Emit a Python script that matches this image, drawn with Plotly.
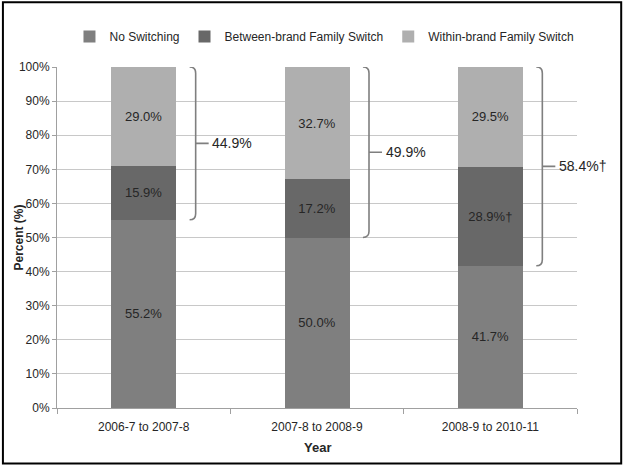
import plotly.graph_objects as go

categories = ["2006-7 to 2007-8", "2007-8 to 2008-9", "2008-9 to 2010-11"]
no_switch = [55.2, 50.0, 41.7]
between = [15.9, 17.2, 28.9]
within = [29.0, 32.7, 29.5]
between_labels = ["15.9%", "17.2%", "28.9%\u2020"]
switch_totals = ["44.9%", "49.9%", "58.4%\u2020"]
y_ticks = [0, 10, 20, 30, 40, 50, 60, 70, 80, 90, 100]

FONT = "Liberation Sans"
xs = list(range(len(categories)))
W = 0.375

fig = go.Figure()
fig.add_bar(x=xs, y=no_switch, name="No Switching", marker_color="#7f7f7f", width=W,
            text=[f"{v:.1f}%" for v in no_switch], textposition="inside", insidetextanchor="middle")
fig.add_bar(x=xs, y=between, name="Between-brand Family Switch", marker_color="#686868", width=W,
            text=between_labels, textposition="inside", insidetextanchor="middle")
fig.add_bar(x=xs, y=within, name="Within-brand Family Switch", marker_color="#afafaf", width=W,
            text=[f"{v:.1f}%" for v in within], textposition="inside", insidetextanchor="middle")
fig.update_traces(textfont=dict(family=FONT, size=13, color="#262626"), textangle=0,
                  marker_line_width=0)

shapes = []
annotations = []
for i, (ns, lab) in enumerate(zip(no_switch, switch_totals)):
    x0 = i + 0.30
    h = 0.035
    r = 1.8
    top = 100.0
    bot = ns
    mid = (top + bot) / 2
    m = 0.075
    path = (f"M {x0-h},{top} Q {x0},{top} {x0},{top-r} L {x0},{bot+r} Q {x0},{bot} {x0-h},{bot} "
            f"M {x0},{mid} L {x0+m},{mid}")
    shapes.append(dict(type="path", path=path, xref="x", yref="y",
                       line=dict(color="#7f7f7f", width=1.6)))
    annotations.append(dict(x=x0 + m + 0.01, y=mid, xref="x", yref="y", text=lab,
                            showarrow=False, xanchor="left", yanchor="middle",
                            font=dict(family=FONT, size=14, color="#262626")))

# axis titles
annotations.append(dict(text="<b>Percent (%)</b>", xref="paper", yref="paper", x=-0.075, y=0.5,
                        textangle=-90, showarrow=False, xanchor="center", yanchor="middle",
                        font=dict(family=FONT, size=12, color="#262626")))
annotations.append(dict(text="<b>Year</b>", xref="paper", yref="paper", x=0.5, y=-0.115,
                        showarrow=False, xanchor="center", yanchor="middle",
                        font=dict(family=FONT, size=13, color="#262626")))

# outer frame
shapes.append(dict(type="rect", xref="paper", yref="paper", x0=-0.104, x1=1.085, y0=-0.163, y1=1.19,
                   line=dict(color="black", width=2), layer="below"))

fig.update_layout(
    barmode="stack",
    width=624, height=467,
    margin=dict(l=57, r=47, t=67, b=59, autoexpand=False),
    paper_bgcolor="white", plot_bgcolor="white",
    font=dict(family=FONT, size=12, color="#262626"),
    showlegend=True,
    legend=dict(orientation="h", xref="container", x=0.52, xanchor="center",
                yref="container", y=0.922, yanchor="middle",
                font=dict(family=FONT, size=12, color="#262626"), traceorder="normal",
                itemwidth=30),
    shapes=shapes,
    annotations=annotations,
    xaxis=dict(range=[-0.5, 2.5], tickvals=xs, ticktext=categories, ticks="",
               showgrid=False, showline=True, linecolor="#a0a0a0", linewidth=1,
               tickfont=dict(family=FONT, size=12, color="#262626"),
               ticklabelstandoff=8,
               minor=dict(tickvals=[-0.5, 0.5, 1.5, 2.5], ticks="outside", ticklen=5,
                          tickcolor="#a0a0a0", showgrid=False)),
    yaxis=dict(range=[0, 100], tickvals=y_ticks, ticktext=[f"{v}%" for v in y_ticks],
               showgrid=True, gridcolor="#c8c8c8", gridwidth=1,
               showline=True, linecolor="#a0a0a0", linewidth=1,
               ticks="outside", ticklen=4, tickcolor="#a0a0a0",
               tickfont=dict(family=FONT, size=12, color="#262626"),
               zeroline=False),
    bargap=0.6,
)

fig.write_html("out.html", post_script="document.body.style.margin='0';",
               config={"displayModeBar": False})
